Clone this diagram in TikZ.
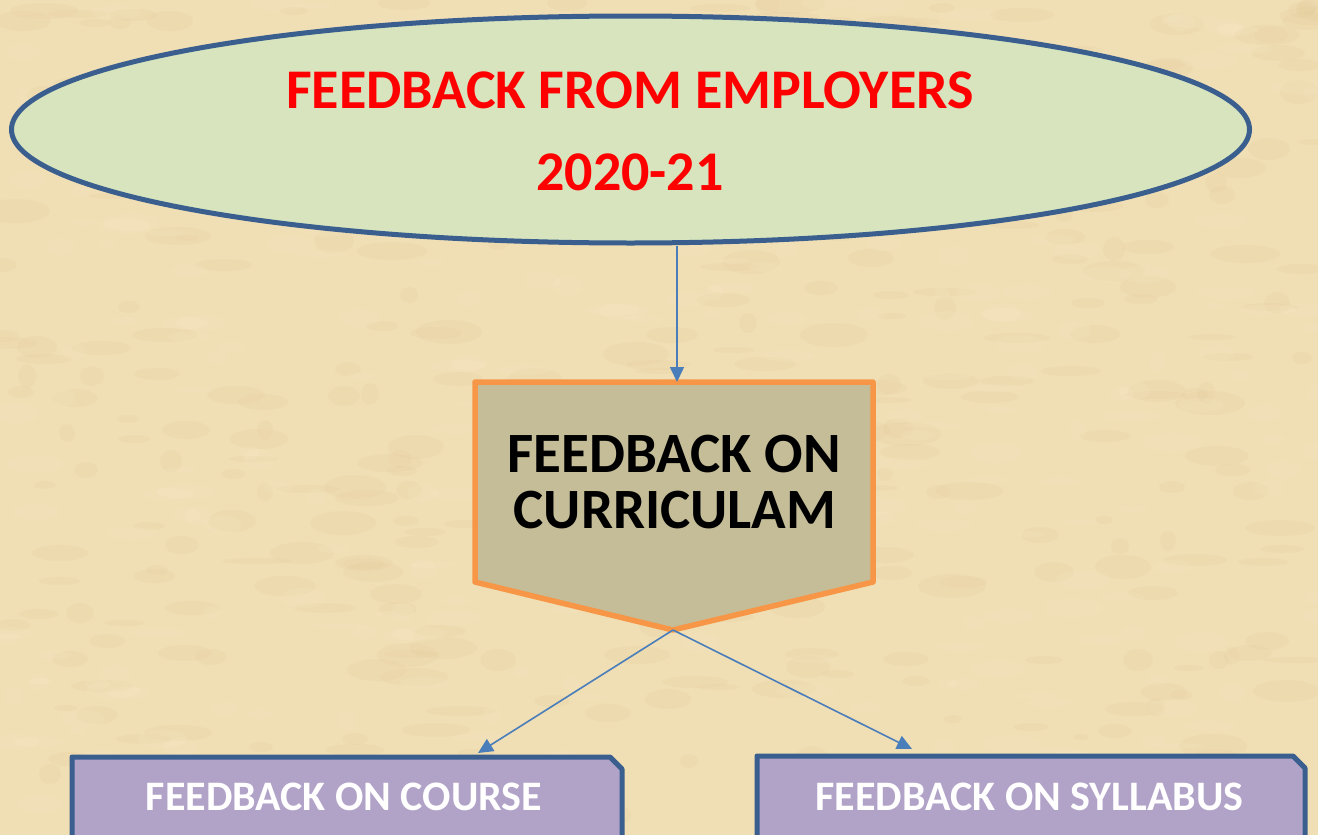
\documentclass[tikz,border=0pt]{standalone}
\usepackage{fontspec}
\setmainfont{Carlito}
\usetikzlibrary{shapes.geometric,arrows.meta}
\definecolor{bgc}{RGB}{240,222,180}
\definecolor{bgdark}{RGB}{222,196,145}
\definecolor{bglight}{RGB}{248,234,200}
\definecolor{ellfill}{RGB}{215,228,189}
\definecolor{navy}{RGB}{58,95,143}
\definecolor{pentfill}{RGB}{196,189,151}
\definecolor{pentline}{RGB}{247,150,70}
\definecolor{boxfill}{RGB}{177,162,200}
\definecolor{conncol}{RGB}{74,126,187}
\tikzset{
  redtext/.style={anchor=base,inner sep=0pt,text=red,font=\bfseries\fontsize{56}{60}\selectfont},
  blacktext/.style={anchor=base,inner sep=0pt,text=black,font=\bfseries\fontsize{57}{60}\selectfont},
  whitetext/.style={anchor=base,inner sep=0pt,text=white,font=\bfseries\fontsize{42}{46}\selectfont},
  pentstyle/.style={draw=pentline,fill=pentfill,line width=5.5pt,line join=round},
  boxstyle/.style={draw=navy,fill=boxfill,line width=5pt,line join=round},
  conn/.style={draw=conncol,line width=1.6pt,-{Triangle[length=15pt,width=14pt]}},
}
\begin{document}
\begin{tikzpicture}[x=1pt,y=-1pt]
\useasboundingbox (0,0) rectangle (1318,835);
\clip (0,0) rectangle (1318,835);
\fill[bgc] (0,0) rectangle (1318,835);
\pgfmathsetseed{7}
\foreach \i in {1,...,400}{
  \pgfmathsetmacro{\xx}{random(0,1318)}
  \pgfmathsetmacro{\yy}{random(0,835)}
  \pgfmathsetmacro{\ra}{random(8,35)}
  \pgfmathsetmacro{\rb}{random(3,12)}
  \fill[bgdark,opacity=0.12] (\xx,\yy) ellipse [x radius=\ra pt, y radius=\rb pt];
}
\foreach \i in {1,...,300}{
  \pgfmathsetmacro{\xx}{random(0,1318)}
  \pgfmathsetmacro{\yy}{random(0,835)}
  \pgfmathsetmacro{\ra}{random(8,30)}
  \pgfmathsetmacro{\rb}{random(3,10)}
  \fill[bglight,opacity=0.18] (\xx,\yy) ellipse [x radius=\ra pt, y radius=\rb pt];
}
% ellipse
\node[ellipse,draw=navy,fill=ellfill,line width=5pt,minimum width=1238pt,minimum height=227pt,inner sep=0pt] (emp) at (630.5,129.5) {};
\node[redtext] (emptitle) at (630,108) {FEEDBACK FROM EMPLOYERS};
\node[redtext] (empyear) at (630,190) {2020-21};
% pentagon
\draw[pentstyle] (475,382) coordinate (ptl) -- (873,382) coordinate (ptr) -- (873,582) -- (673,630) coordinate (ptip) -- (475,582) -- cycle;
\coordinate (ptop) at (677,382);
\node[blacktext] (cur1) at (674,472) {FEEDBACK ON};
\node[blacktext] (cur2) at (675,528) {CURRICULAM};
% bottom boxes
\draw[boxstyle] (72,850) -- (72,757) coordinate (b1tl) -- (610,757) -- (622,769) -- (622,850);
\node[whitetext] (course) at (344,810) {FEEDBACK ON COURSE};
\draw[boxstyle] (757,850) -- (757,756) coordinate (b2tl) -- (1293,756) -- (1305,768) -- (1305,850);
\node[whitetext] (syll) at (1029.5,810) {FEEDBACK ON SYLLABUS};
\coordinate (b1in) at (478,753);
\coordinate (b2in) at (912,749);
% connectors
\draw[conn] (emp.south -| ptop) -- (ptop);
\draw[conn] (ptip) -- (b1in);
\draw[conn] (ptip) -- (b2in);
\end{tikzpicture}
\end{document}
